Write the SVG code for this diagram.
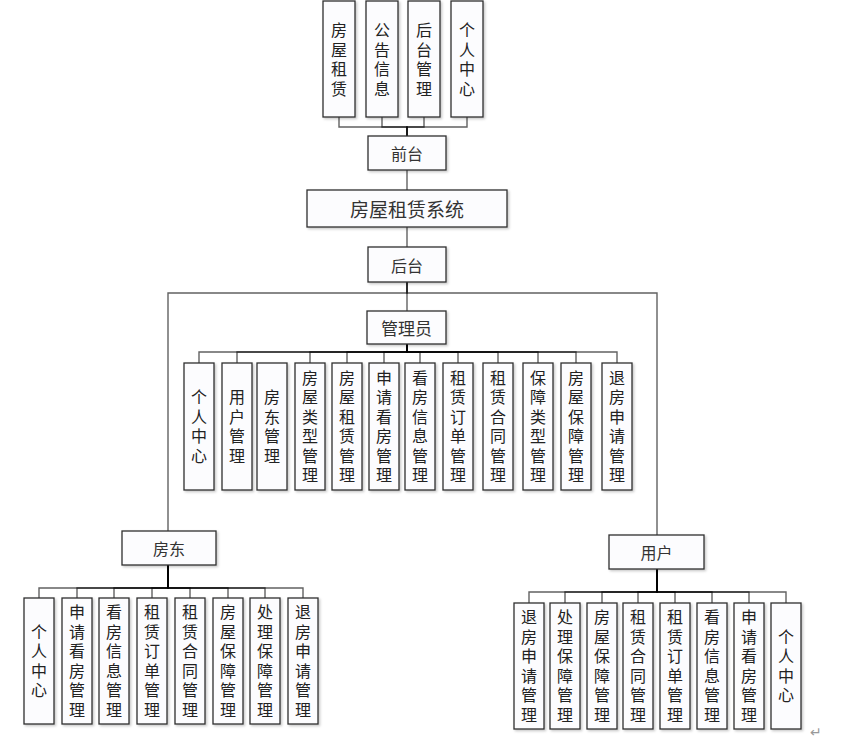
<svg xmlns="http://www.w3.org/2000/svg" width="867" height="741" viewBox="0 0 867 741">
<style>
.bg{fill:#ffffff}
.box{fill:#fcfcfe;stroke:#2e2e2e;stroke-width:1.3;filter:url(#sh)}
.v{font-family:"Noto Sans CJK SC","Noto Sans",sans-serif;font-size:16px;fill:#222;text-anchor:middle;writing-mode:vertical-rl;letter-spacing:3.5px}
.th{font-family:"Noto Sans CJK SC","Noto Sans",sans-serif;fill:#333;text-anchor:middle;dominant-baseline:central}
.c{fill:none;stroke:#000;stroke-opacity:0.62;stroke-width:1.4}
.ret{font-family:"DejaVu Sans",sans-serif;font-size:14px;fill:#999;dominant-baseline:central}
</style>
<defs>
<filter id="sh" x="-20%" y="-20%" width="140%" height="140%">
<feDropShadow dx="1.5" dy="1.5" stdDeviation="0.8" flood-color="#000" flood-opacity="0.22"/>
</filter>
</defs>
<rect class="bg" x="0" y="0" width="867" height="741"/>
<g id="connectors">
<path class="c" d="M339 117 V127 H407 V136"/>
<path class="c" d="M382 117 V127 H407 V136"/>
<path class="c" d="M424 117 V127 H407 V136"/>
<path class="c" d="M467 117 V127 H407 V136"/>
<path class="c" d="M407 170 V190"/>
<path class="c" d="M407 227 V247"/>
<path class="c" d="M407 282 V311"/>
<path class="c" d="M407 282 V293 H168 V531"/>
<path class="c" d="M407 282 V293 H657 V535"/>
<path class="c" d="M407 344 V352 H199 V363"/>
<path class="c" d="M407 344 V352 H237 V363"/>
<path class="c" d="M407 344 V352 H310 V363"/>
<path class="c" d="M407 344 V352 H347 V363"/>
<path class="c" d="M407 344 V352 H384 V363"/>
<path class="c" d="M407 344 V352 H420 V363"/>
<path class="c" d="M407 344 V352 H458 V363"/>
<path class="c" d="M407 344 V352 H498 V363"/>
<path class="c" d="M407 344 V352 H538 V363"/>
<path class="c" d="M407 344 V352 H576 V363"/>
<path class="c" d="M407 344 V352 H617 V363"/>
<path class="c" d="M168 565 V588 H39 V598"/>
<path class="c" d="M168 565 V588 H77 V598"/>
<path class="c" d="M168 565 V588 H114 V598"/>
<path class="c" d="M168 565 V588 H152 V598"/>
<path class="c" d="M168 565 V588 H190 V598"/>
<path class="c" d="M168 565 V588 H228 V598"/>
<path class="c" d="M168 565 V588 H265 V598"/>
<path class="c" d="M168 565 V588 H303 V598"/>
<path class="c" d="M657 569 V592 H529 V603"/>
<path class="c" d="M657 569 V592 H565 V603"/>
<path class="c" d="M657 569 V592 H602 V603"/>
<path class="c" d="M657 569 V592 H638 V603"/>
<path class="c" d="M657 569 V592 H675 V603"/>
<path class="c" d="M657 569 V592 H712 V603"/>
<path class="c" d="M657 569 V592 H749 V603"/>
<path class="c" d="M657 569 V592 H786 V603"/>
</g>

<!-- top row -->
<g id="n-fwzl"><rect class="box" x="323" y="1" width="32" height="116"/><text class="v" x="339" y="61">房屋租赁</text></g>
<g id="n-ggxx"><rect class="box" x="366" y="1" width="32" height="116"/><text class="v" x="382" y="61">公告信息</text></g>
<g id="n-htgl"><rect class="box" x="408" y="1" width="32" height="116"/><text class="v" x="424" y="61">后台管理</text></g>
<g id="n-grzx-top"><rect class="box" x="451" y="1" width="32" height="116"/><text class="v" x="467" y="61">个人中心</text></g>

<g id="n-qiantai"><rect class="box" x="368" y="136" width="78" height="34"/><text class="th" x="407" y="153" font-size="16">前台</text></g>
<g id="n-system"><rect class="box" x="307" y="190" width="200" height="37"/><text class="th" x="407" y="208.5" font-size="19">房屋租赁系统</text></g>
<g id="n-houtai"><rect class="box" x="368" y="247" width="78" height="35"/><text class="th" x="407" y="264.5" font-size="16">后台</text></g>
<g id="n-admin"><rect class="box" x="367" y="311" width="79" height="33"/><text class="th" x="406.5" y="327.5" font-size="17">管理员</text></g>

<!-- admin children -->
<g id="a1"><rect class="box" x="184" y="363" width="30" height="127"/><text class="v" x="199" y="428.3">个人中心</text></g>
<g id="a2"><rect class="box" x="222" y="363" width="30" height="127"/><text class="v" x="237" y="428.3">用户管理</text></g>
<g id="a3"><rect class="box" x="257" y="363" width="30" height="127"/><text class="v" x="272" y="428.3">房东管理</text></g>
<g id="a4"><rect class="box" x="295" y="363" width="30" height="127"/><text class="v" x="310" y="428.3">房屋类型管理</text></g>
<g id="a5"><rect class="box" x="332" y="363" width="30" height="127"/><text class="v" x="347" y="428.3">房屋租赁管理</text></g>
<g id="a6"><rect class="box" x="369" y="363" width="30" height="127"/><text class="v" x="384" y="428.3">申请看房管理</text></g>
<g id="a7"><rect class="box" x="405" y="363" width="30" height="127"/><text class="v" x="420" y="428.3">看房信息管理</text></g>
<g id="a8"><rect class="box" x="443" y="363" width="30" height="127"/><text class="v" x="458" y="428.3">租赁订单管理</text></g>
<g id="a9"><rect class="box" x="483" y="363" width="30" height="127"/><text class="v" x="498" y="428.3">租赁合同管理</text></g>
<g id="a10"><rect class="box" x="523" y="363" width="30" height="127"/><text class="v" x="538" y="428.3">保障类型管理</text></g>
<g id="a11"><rect class="box" x="561" y="363" width="30" height="127"/><text class="v" x="576" y="428.3">房屋保障管理</text></g>
<g id="a12"><rect class="box" x="602" y="363" width="30" height="127"/><text class="v" x="617" y="428.3">退房申请管理</text></g>

<!-- landlord -->
<g id="n-landlord"><rect class="box" x="122" y="531" width="94" height="34"/><text class="th" x="169" y="548" font-size="16">房东</text></g>
<g id="l1"><rect class="box" x="24" y="598" width="30" height="126"/><text class="v" x="39" y="662.8">个人中心</text></g>
<g id="l2"><rect class="box" x="62" y="598" width="30" height="126"/><text class="v" x="77" y="662.8">申请看房管理</text></g>
<g id="l3"><rect class="box" x="99" y="598" width="30" height="126"/><text class="v" x="114" y="662.8">看房信息管理</text></g>
<g id="l4"><rect class="box" x="137" y="598" width="30" height="126"/><text class="v" x="152" y="662.8">租赁订单管理</text></g>
<g id="l5"><rect class="box" x="175" y="598" width="30" height="126"/><text class="v" x="190" y="662.8">租赁合同管理</text></g>
<g id="l6"><rect class="box" x="213" y="598" width="30" height="126"/><text class="v" x="228" y="662.8">房屋保障管理</text></g>
<g id="l7"><rect class="box" x="250" y="598" width="30" height="126"/><text class="v" x="265" y="662.8">处理保障管理</text></g>
<g id="l8"><rect class="box" x="288" y="598" width="30" height="126"/><text class="v" x="303" y="662.8">退房申请管理</text></g>

<!-- user -->
<g id="n-user"><rect class="box" x="609" y="535" width="95" height="34"/><text class="th" x="656.5" y="552" font-size="16">用户</text></g>
<g id="u1"><rect class="box" x="514" y="603" width="30" height="126"/><text class="v" x="529" y="667.8">退房申请管理</text></g>
<g id="u2"><rect class="box" x="550" y="603" width="30" height="126"/><text class="v" x="565" y="667.8">处理保障管理</text></g>
<g id="u3"><rect class="box" x="587" y="603" width="30" height="126"/><text class="v" x="602" y="667.8">房屋保障管理</text></g>
<g id="u4"><rect class="box" x="623" y="603" width="30" height="126"/><text class="v" x="638" y="667.8">租赁合同管理</text></g>
<g id="u5"><rect class="box" x="660" y="603" width="30" height="126"/><text class="v" x="675" y="667.8">租赁订单管理</text></g>
<g id="u6"><rect class="box" x="697" y="603" width="30" height="126"/><text class="v" x="712" y="667.8">看房信息管理</text></g>
<g id="u7"><rect class="box" x="734" y="603" width="30" height="126"/><text class="v" x="749" y="667.8">申请看房管理</text></g>
<g id="u8"><rect class="box" x="771" y="603" width="30" height="126"/><text class="v" x="786" y="667.8">个人中心</text></g>

<text class="ret" x="810" y="732">↵</text>
</svg>
